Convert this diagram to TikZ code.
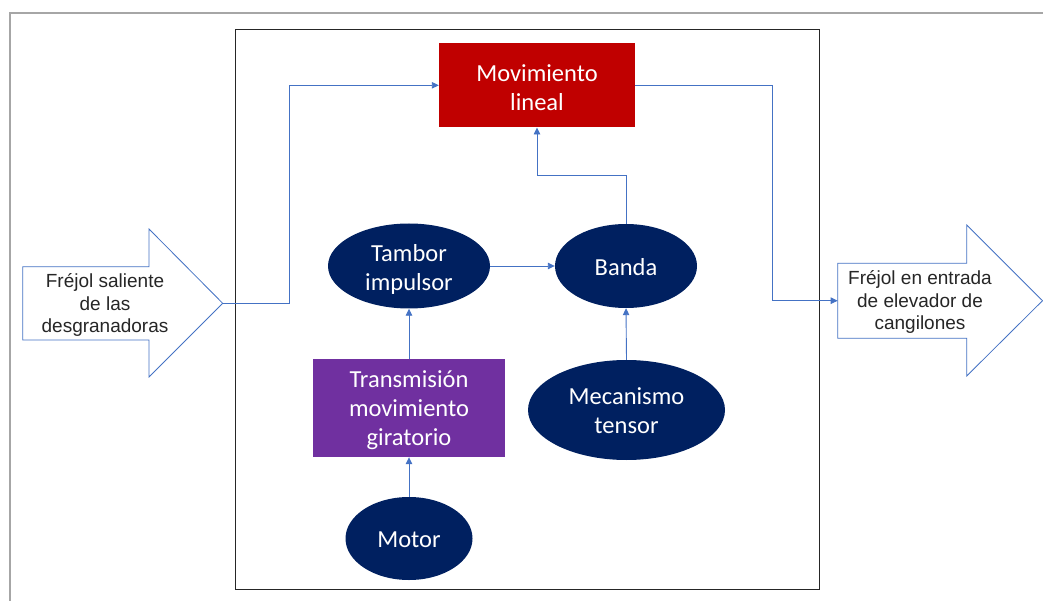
\documentclass[tikz,border=0pt]{standalone}
\usepackage{fontspec}
\setmainfont{Carlito}
\newfontfamily\arialf{Liberation Sans}
\usetikzlibrary{shapes.geometric,arrows.meta,calc}
\definecolor{navy}{HTML}{002060}
\definecolor{redbox}{HTML}{C00000}
\definecolor{purplebox}{HTML}{7030A0}
\definecolor{connblue}{HTML}{4472C4}
\definecolor{framegray}{HTML}{A6A6A6}
\definecolor{labeltext}{HTML}{262626}
\tikzset{
  x=1pt, y=-1pt,
  nodetext/.style={text=white, align=center, font=\fontsize{24.5}{29}\selectfont, inner sep=0pt},
  ell/.style={ellipse, fill=navy, inner sep=0pt},
  rectbox/.style={rectangle, inner sep=0pt},
  txt/.style 2 args={label={[nodetext, yshift=-#1pt]center:{#2}}},
  conn/.style={draw=connblue, line width=0.9pt, -{Triangle[length=7pt,width=6.5pt]}},
  bigarrow/.style={draw=connblue, line width=0.8pt, fill=white},
  arrowtext/.style={align=center, text=labeltext, font=\arialf\fontsize{19}{22.5}\selectfont, inner sep=0pt}
}
\begin{document}
\begin{tikzpicture}
\useasboundingbox (0,0) rectangle (1043,601);
% outer gray frame
\draw[framegray, line width=2pt] (9.5,601) -- (9.5,13) -- (1043,13);
% inner black box
\draw[black!85, line width=1pt] (235,30) rectangle (819,589);

% input big arrow
\draw[bigarrow] (22.7,266.7) -- (149,266.7) -- (149,229) -- (222.7,303.3) -- (149,377) -- (149,340) -- (22.7,340) -- cycle;
\coordinate (ltip) at (222.7,303.3);
\node[arrowtext] (inlabel) at (105,305) {Fréjol saliente\\de las\\desgranadoras};

% output big arrow
\draw[bigarrow] (837.7,263.3) -- (966.7,263.3) -- (966.7,225) -- (1042.5,300.7) -- (966.7,376) -- (966.7,338.3) -- (837.7,338.3) -- cycle;
\coordinate (rin) at (837.7,300.7);
\node[arrowtext] (outlabel) at (920,302) {Fréjol en entrada\\de elevador de\\cangilones};

% nodes
\node[rectbox, fill=redbox, minimum width=196pt, minimum height=84pt, txt={2}{Movimiento\\lineal}] (mov) at (537,85.3) {};
\node[ell, minimum width=162pt, minimum height=85pt, txt={3.5}{Tambor\\impulsor}] (tam) at (409,266) {};
\node[ell, minimum width=142pt, minimum height=84pt, txt={1}{Banda}] (ban) at (626,266) {};
\node[rectbox, fill=purplebox, minimum width=192pt, minimum height=98pt, txt={2.5}{Transmisión\\movimiento\\giratorio}] (tra) at (409,408) {};
\node[ell, minimum width=197pt, minimum height=100pt, txt={1}{Mecanismo\\tensor}] (mec) at (626.5,410) {};
\node[ell, minimum width=127pt, minimum height=83pt, txt={1}{Motor}] (mot) at (409,538.5) {};

% connectors
\draw[conn] (ltip) -- ++(66.3,0) |- (mov.west);
\draw[conn] (mov.east) -- ++(137,0) |- (rin);
\draw[conn] (ban.north) -- ++(0,-48) -| (mov.south);
\draw[conn] (tam.east) -- (ban.west);
\draw[conn] (tra.north) -- (tam.south);
\draw[conn] (mot.north) -- (tra.south);
\draw[conn] (mec.north) -- (ban.south);
\end{tikzpicture}
\end{document}
